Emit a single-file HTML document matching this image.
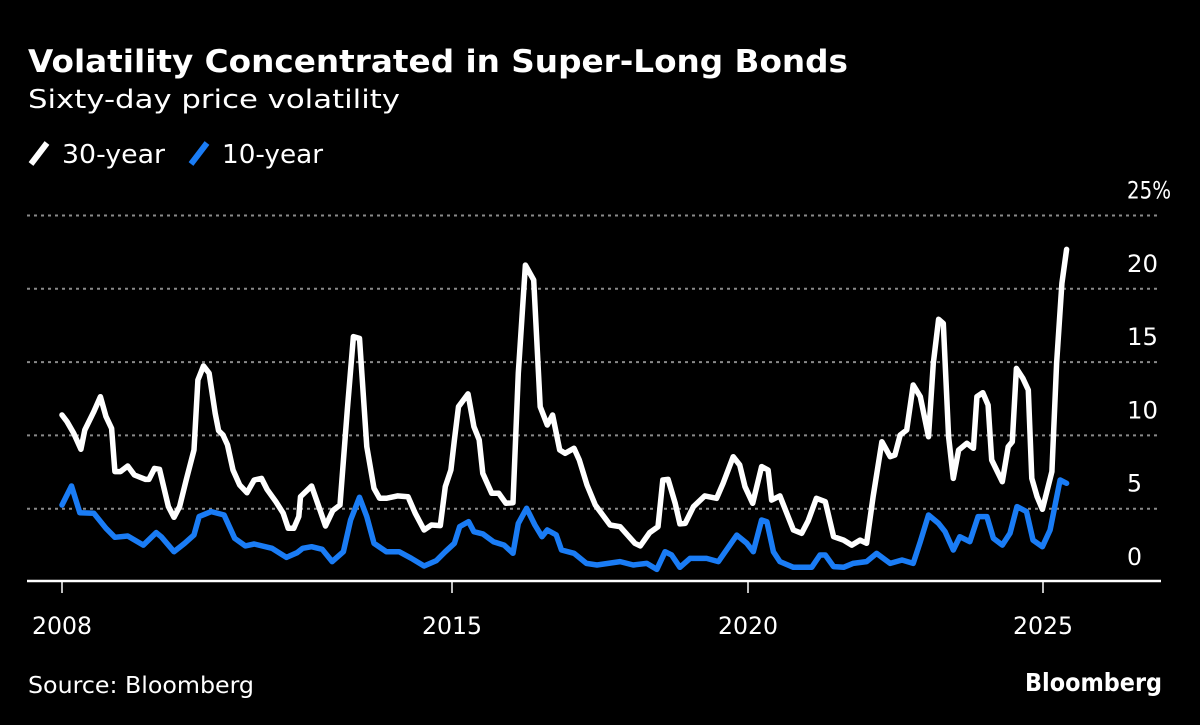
<!DOCTYPE html>
<html><head><meta charset="utf-8"><style>
html,body{margin:0;padding:0;background:#000;}
svg{display:block;}
text{font-family:"DejaVu Sans","Liberation Sans",sans-serif;fill:#fff;}
</style></head><body>
<svg id="chart" width="1200" height="725" viewBox="0 0 1200 725" xmlns="http://www.w3.org/2000/svg">
<rect width="1200" height="725" fill="#000"/>
<text x="28" y="72" font-size="31" font-weight="bold" textLength="820" lengthAdjust="spacingAndGlyphs">Volatility Concentrated in Super-Long Bonds</text>
<text x="28" y="108" font-size="26" textLength="372" lengthAdjust="spacingAndGlyphs">Sixty-day price volatility</text>
<g>
<line x1="31" y1="164" x2="47" y2="143" stroke="#fff" stroke-width="6"/>
<text x="62" y="163" font-size="26" textLength="103" lengthAdjust="spacingAndGlyphs">30-year</text>
<line x1="191" y1="164" x2="207" y2="143" stroke="#1a7cf5" stroke-width="6"/>
<text x="222" y="163" font-size="26" textLength="101" lengthAdjust="spacingAndGlyphs">10-year</text>
</g>
<g id="grid"></g>
<g id="yticks"></g>
<g id="series"></g>
<g id="xaxis"></g>
<text x="28" y="693" font-size="23" textLength="226" lengthAdjust="spacingAndGlyphs">Source: Bloomberg</text>
<text x="1025" y="691" font-size="25" font-weight="bold" textLength="137" lengthAdjust="spacingAndGlyphs">Bloomberg</text>
</svg>
<script>
const yTicks=[0,5,10,15,20,25];
const yTickLabels=["0","5","10","15","20","25%"];
const xTickYears=[2008,2015,2020,2025];
const xTickLabels=["2008","2015","2020","2025"];
const dates30=[2008.00,2008.09,2008.21,2008.34,2008.41,2008.57,2008.69,2008.79,2008.89,2008.95,2009.05,2009.18,2009.30,2009.50,2009.56,2009.66,2009.75,2009.91,2010.01,2010.11,2010.23,2010.37,2010.44,2010.54,2010.64,2010.75,2010.81,2010.89,2010.97,2011.07,2011.19,2011.32,2011.45,2011.58,2011.68,2011.84,2011.97,2012.06,2012.16,2012.25,2012.28,2012.48,2012.61,2012.73,2012.86,2012.99,2013.12,2013.23,2013.34,2013.47,2013.60,2013.70,2013.82,2014.02,2014.21,2014.34,2014.50,2014.63,2014.79,2014.88,2014.98,2015.04,2015.11,2015.27,2015.37,2015.46,2015.52,2015.67,2015.79,2015.91,2016.03,2016.12,2016.24,2016.38,2016.49,2016.61,2016.70,2016.82,2016.91,2017.06,2017.15,2017.28,2017.42,2017.67,2017.84,2018.09,2018.18,2018.34,2018.48,2018.56,2018.65,2018.77,2018.85,2018.94,2019.08,2019.27,2019.47,2019.58,2019.75,2019.86,2019.95,2020.08,2020.23,2020.34,2020.40,2020.54,2020.77,2020.91,2021.02,2021.16,2021.31,2021.45,2021.62,2021.76,2021.90,2022.01,2022.12,2022.27,2022.41,2022.49,2022.58,2022.69,2022.80,2022.92,2023.06,2023.14,2023.23,2023.31,2023.40,2023.48,2023.57,2023.71,2023.82,2023.88,2023.98,2024.07,2024.13,2024.31,2024.41,2024.48,2024.55,2024.66,2024.75,2024.81,2024.90,2024.99,2025.15,2025.23,2025.32,2025.40];
const vol30=[11.39,10.94,10.14,9.05,10.37,11.62,12.64,11.28,10.48,7.53,7.53,7.91,7.30,7.00,7.00,7.75,7.69,5.14,4.41,5.14,6.96,9.01,13.78,14.74,14.24,11.51,10.32,10.03,9.35,7.64,6.62,6.09,6.96,7.07,6.32,5.48,4.69,3.66,3.66,4.46,5.82,6.55,5.14,3.82,4.87,5.25,11.73,16.74,16.62,9.23,6.39,5.71,5.71,5.87,5.82,4.69,3.55,3.89,3.85,6.51,7.64,9.69,11.96,12.83,10.60,9.69,7.41,6.05,6.05,5.37,5.41,14.24,21.62,20.60,11.96,10.71,11.39,9.01,8.78,9.12,8.32,6.62,5.25,3.89,3.77,2.64,2.46,3.37,3.77,6.96,7.00,5.37,3.96,4.00,5.14,5.87,5.71,6.73,8.55,7.98,6.50,5.37,7.87,7.64,5.59,5.87,3.55,3.32,4.18,5.71,5.48,3.09,2.86,2.52,2.86,2.64,5.82,9.57,8.55,8.66,10.03,10.37,13.44,12.64,9.91,14.91,17.92,17.64,9.91,7.07,9.00,9.46,9.12,12.64,12.91,12.07,8.32,6.84,9.23,9.57,14.57,13.89,13.10,7.07,5.82,4.96,7.53,14.91,20.37,22.69];
const dates10=[2008.00,2008.17,2008.32,2008.57,2008.79,2008.95,2009.18,2009.46,2009.69,2009.78,2010.01,2010.20,2010.37,2010.46,2010.68,2010.91,2011.10,2011.29,2011.45,2011.77,2012.03,2012.22,2012.32,2012.48,2012.67,2012.85,2013.05,2013.18,2013.34,2013.47,2013.60,2013.82,2014.05,2014.27,2014.50,2014.72,2014.88,2015.04,2015.13,2015.28,2015.37,2015.52,2015.70,2015.88,2016.03,2016.12,2016.26,2016.40,2016.52,2016.61,2016.76,2016.85,2017.06,2017.27,2017.45,2017.84,2018.06,2018.29,2018.46,2018.60,2018.71,2018.85,2019.02,2019.30,2019.50,2019.81,2019.98,2020.09,2020.23,2020.32,2020.43,2020.54,2020.77,2021.08,2021.22,2021.31,2021.45,2021.62,2021.78,2022.01,2022.18,2022.41,2022.61,2022.80,2022.92,2023.06,2023.23,2023.34,2023.48,2023.59,2023.76,2023.90,2024.05,2024.16,2024.31,2024.44,2024.56,2024.72,2024.83,2024.99,2025.12,2025.29,2025.40];
const vol10=[5.25,6.55,4.73,4.69,3.66,3.05,3.14,2.52,3.37,3.09,2.07,2.64,3.21,4.46,4.80,4.57,2.98,2.46,2.59,2.30,1.68,2.00,2.30,2.41,2.23,1.39,2.07,4.23,5.78,4.46,2.64,2.07,2.07,1.62,1.09,1.46,2.07,2.64,3.78,4.12,3.43,3.28,2.75,2.52,1.96,4.00,5.03,3.89,3.09,3.55,3.21,2.18,1.96,1.27,1.16,1.39,1.16,1.27,0.86,2.07,1.84,1.00,1.61,1.61,1.39,3.20,2.64,2.07,4.23,4.11,2.07,1.39,1.00,1.00,1.84,1.84,1.05,1.00,1.27,1.39,1.95,1.27,1.50,1.27,2.75,4.57,4.00,3.43,2.18,3.09,2.75,4.46,4.46,2.98,2.52,3.32,5.14,4.80,2.86,2.41,3.55,6.96,6.73];

const NS="http://www.w3.org/2000/svg";
const tickPx=[62,452,748,1043];
function xScale(t){
  const n=xTickYears.length;
  let i=0;
  while(i<n-2 && t>xTickYears[i+1]) i++;
  const a=xTickYears[i],b=xTickYears[i+1];
  return tickPx[i]+(t-a)*(tickPx[i+1]-tickPx[i])/(b-a);
}
function yScale(v){return 582-v*14.66;}
function mk(tag,attrs,parent){const e=document.createElementNS(NS,tag);for(const k in attrs)e.setAttribute(k,attrs[k]);parent.appendChild(e);return e;}

const grid=document.getElementById('grid'), yt=document.getElementById('yticks');
yTicks.forEach((v,i)=>{
  if(v>0){
    const g=mk('line',{x1:27,x2:1158,y1:yScale(v),y2:yScale(v),stroke:'#8a8a8a','stroke-width':2,'stroke-dasharray':'3 4'},grid);
    
    
  }
  const lbl=yTickLabels[i];
  const w=lbl.length===1?15:(lbl.length===2?31:44);
  const t=mk('text',{x:1127,y:yScale(v)-17,'font-size':24,textLength:w,lengthAdjust:'spacingAndGlyphs'},yt);
  t.textContent=lbl;
  
  
});

const series=document.getElementById('series');
function line(dates,vals,color,name){
  const d=dates.map((t,i)=>(i?'L':'M')+xScale(t).toFixed(1)+','+yScale(vals[i]).toFixed(1)).join('');
  const p=mk('path',{d:d,fill:'none',stroke:color,'stroke-width':5.5,'stroke-linejoin':'round','stroke-linecap':'round'},series);
  
  
}
line(dates10,vol10,'#1a7cf5','line-10-year');
line(dates30,vol30,'#ffffff','line-30-year');

const xa=document.getElementById('xaxis');
const ax=mk('line',{x1:27,x2:1161,y1:581,y2:581,stroke:'#fff','stroke-width':2.5},xa);


xTickYears.forEach((yr,i)=>{
  const x=xScale(yr);
  const tk=mk('line',{x1:x,x2:x,y1:581,y2:593,stroke:'#fff','stroke-width':1.5},xa);
  
  
  const t=mk('text',{x:x-30,y:634,'font-size':24,textLength:60,lengthAdjust:'spacingAndGlyphs'},xa);
  t.textContent=xTickLabels[i];
  
  
});
</script>
</body></html>
